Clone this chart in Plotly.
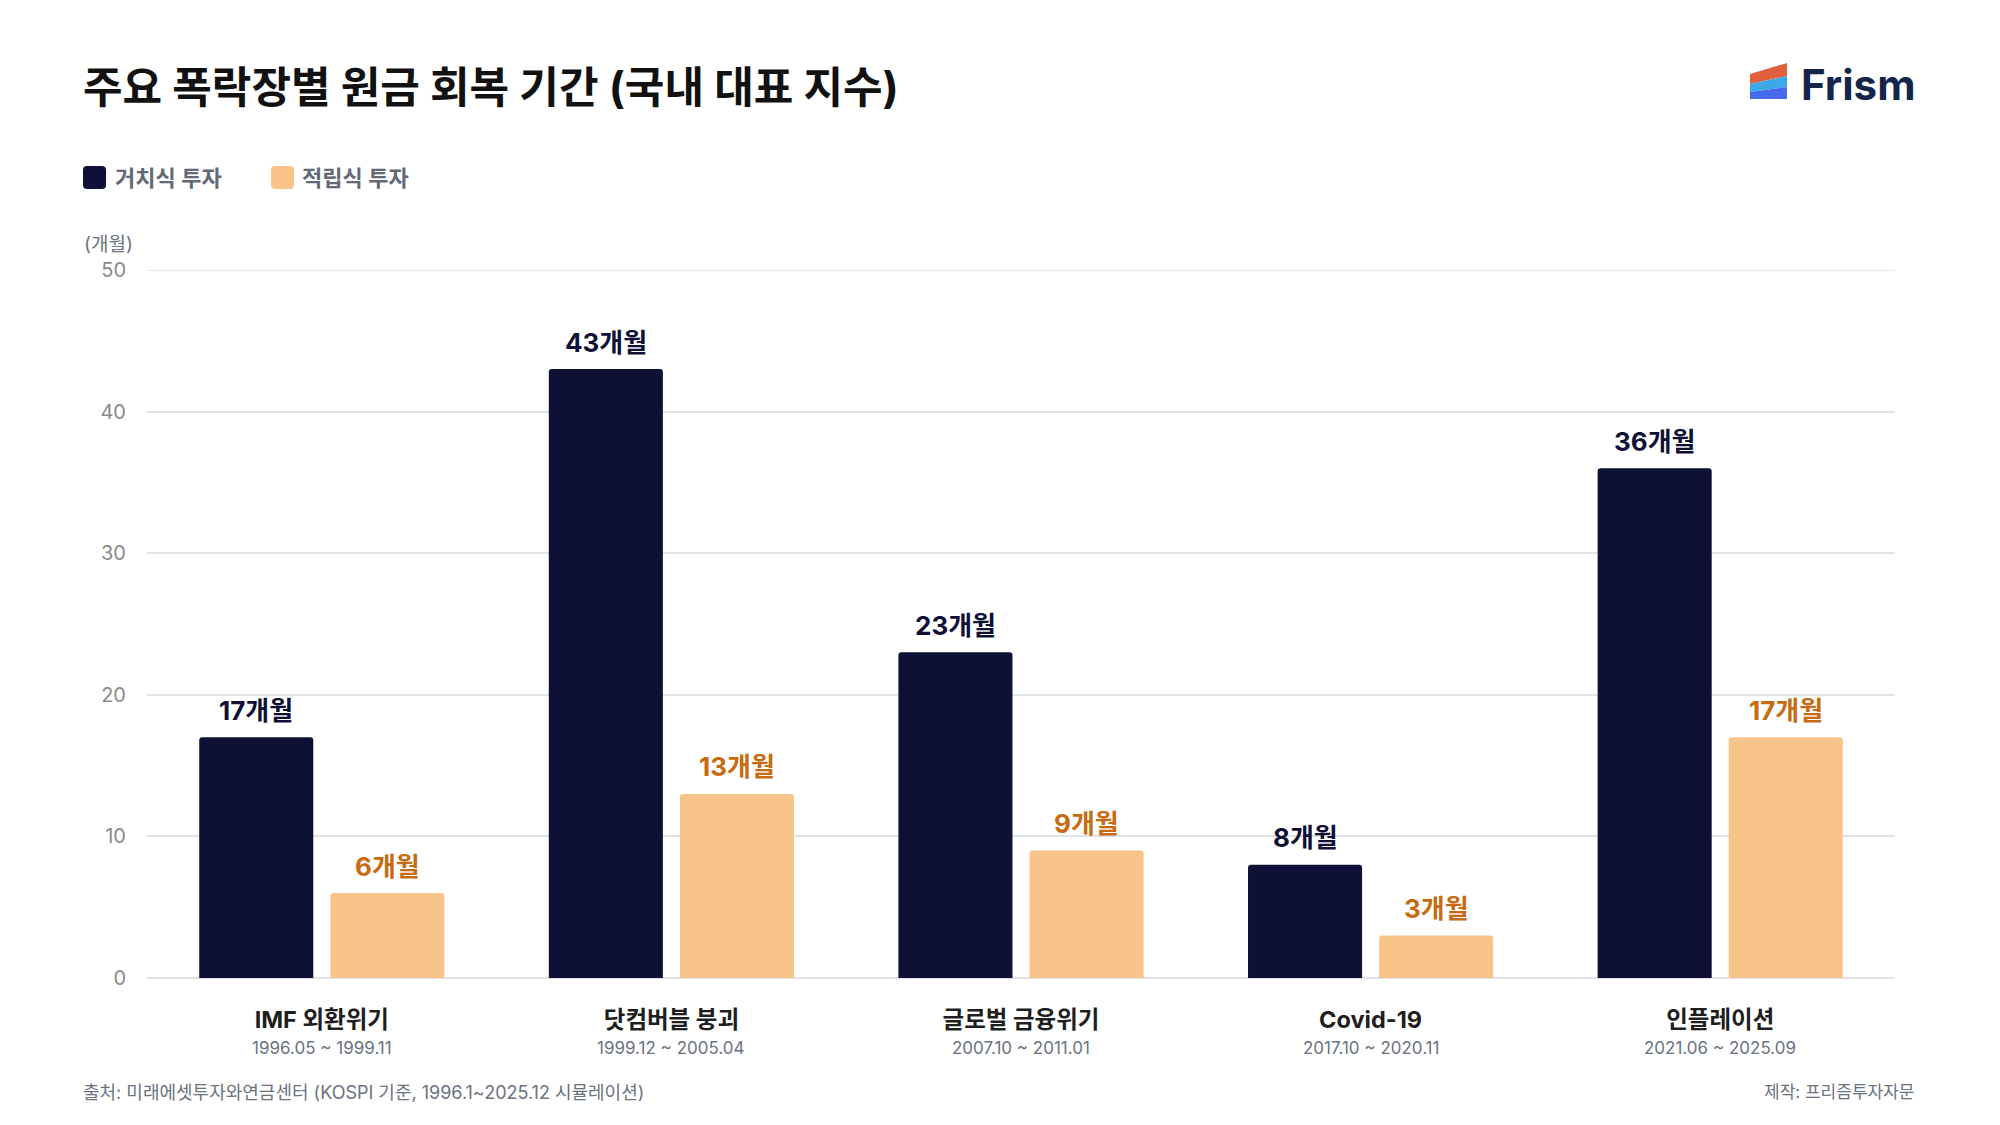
import plotly.graph_objects as go

categories = ["IMF 외환위기", "닷컴버블 붕괴", "글로벌 금융위기", "Covid-19", "인플레이션"]
periods = ["1996.05 ~ 1999.11", "1999.12 ~ 2005.04", "2007.10 ~ 2011.01", "2017.10 ~ 2020.11", "2021.06 ~ 2025.09"]
lump_sum = [17, 43, 23, 8, 36]
installment = [6, 13, 9, 3, 17]
series_names = ["거치식 투자", "적립식 투자"]
y_ticks = [0, 10, 20, 30, 40, 50]

DARK = "#0E1036"
ORANGE = "#F9C48A"
ORANGE_TXT = "#C66B12"
GRID = "#E1E1E8"
FONT = "Inter, 'Noto Sans CJK KR', sans-serif"

# plot area in pixels
L, R, T, B = 147, 1895, 270, 978
W, H = R - L, B - T


def px(x):
    return (x - L) / W


def py(y):
    return (B - y) / H


def rrect(x0, y0, x1, y1, r):
    pts = [
        f"M {px(x0 + r)},{py(y0)}",
        f"L {px(x1 - r)},{py(y0)}",
        f"Q {px(x1)},{py(y0)} {px(x1)},{py(y0 + r)}",
        f"L {px(x1)},{py(y1 - r)}",
        f"Q {px(x1)},{py(y1)} {px(x1 - r)},{py(y1)}",
        f"L {px(x0 + r)},{py(y1)}",
        f"Q {px(x0)},{py(y1)} {px(x0)},{py(y1 - r)}",
        f"L {px(x0)},{py(y0 + r)}",
        f"Q {px(x0)},{py(y0)} {px(x0 + r)},{py(y0)}",
        "Z",
    ]
    return " ".join(pts)


def poly(points):
    return "M " + " L ".join(f"{px(x)},{py(y)}" for x, y in points) + " Z"


fig = go.Figure()
fig.add_trace(go.Bar(x=categories, y=lump_sum, name=series_names[0],
                     marker=dict(color=DARK, line=dict(width=0)), showlegend=False))
fig.add_trace(go.Bar(x=categories, y=installment, name=series_names[1],
                     marker=dict(color=ORANGE, line=dict(width=0)), showlegend=False))

bargap = 0.25
bargroupgap = 0.13
cat_w = W / len(categories)
slot = cat_w * (1 - bargap) / 2

annotations = []
for c, v in zip(categories, lump_sum):
    annotations.append(dict(x=c, y=v, xref="x", yref="y", text=f"<b>{v}개월</b>", showarrow=False,
                            xshift=-slot / 2, yshift=27, yanchor="middle",
                            font=dict(family=FONT, size=26, color=DARK)))
for c, v in zip(categories, installment):
    annotations.append(dict(x=c, y=v, xref="x", yref="y", text=f"<b>{v}개월</b>", showarrow=False,
                            xshift=slot / 2, yshift=27, yanchor="middle",
                            font=dict(family=FONT, size=26, color=ORANGE_TXT)))

annotations.append(dict(x=px(81), y=py(87), xref="paper", yref="paper", xanchor="left", yanchor="middle",
                        text="<b>주요 폭락장별 원금 회복 기간 (국내 대표 지수)</b>", showarrow=False,
                        font=dict(family=FONT, size=43, color="#111111")))
annotations.append(dict(x=px(1799), y=py(84), xref="paper", yref="paper", xanchor="left", yanchor="middle",
                        text="<b>Frism</b>", showarrow=False,
                        font=dict(family="Inter, Roboto, sans-serif", size=42, color="#14254A")))
annotations.append(dict(x=px(113), y=py(178), xref="paper", yref="paper", xanchor="left", yanchor="middle",
                        text=series_names[0], showarrow=False,
                        font=dict(family=FONT, size=22, color="#626876", weight=600)))
annotations.append(dict(x=px(300), y=py(178), xref="paper", yref="paper", xanchor="left", yanchor="middle",
                        text=series_names[1], showarrow=False,
                        font=dict(family=FONT, size=22, color="#626876", weight=600)))
annotations.append(dict(x=px(82), y=py(258), xref="paper", yref="paper", xanchor="left", yanchor="bottom",
                        text="(개월)", showarrow=False,
                        font=dict(family=FONT, size=19, color="#6B7280")))
for c, p in zip(categories, periods):
    annotations.append(dict(x=c, y=py(1048), xref="x", yref="paper", yanchor="middle",
                            text=p, showarrow=False,
                            font=dict(family=FONT, size=17, color="#6B7280")))
annotations.append(dict(x=px(81), y=py(1092), xref="paper", yref="paper", xanchor="left", yanchor="middle",
                        text="출처: 미래에셋투자와연금센터 (KOSPI 기준, 1996.1~2025.12 시뮬레이션)", showarrow=False,
                        font=dict(family=FONT, size=18, color="#6B7280")))
annotations.append(dict(x=px(1916), y=py(1092), xref="paper", yref="paper", xanchor="right", yanchor="middle",
                        text="제작: 프리즘투자자문", showarrow=False,
                        font=dict(family=FONT, size=17, color="#6B7280")))

shapes = [
    dict(type="line", xref="paper", yref="y", x0=0, x1=1, y0=y_ticks[-1], y1=y_ticks[-1],
         line=dict(color=GRID, width=1.5), layer="below"),
    dict(type="path", xref="paper", yref="paper", path=rrect(83, 166, 106, 189, 4),
         fillcolor=DARK, line=dict(width=0)),
    dict(type="path", xref="paper", yref="paper", path=rrect(271, 166, 294, 189, 4),
         fillcolor=ORANGE, line=dict(width=0)),
    dict(type="path", xref="paper", yref="paper", path=poly([(1750, 74), (1787, 63), (1787, 76), (1750, 84)]),
         fillcolor="#E2603C", line=dict(width=0)),
    dict(type="path", xref="paper", yref="paper", path=poly([(1750, 84), (1787, 76), (1787, 87), (1750, 92)]),
         fillcolor="#3AA9E6", line=dict(width=0)),
    dict(type="path", xref="paper", yref="paper", path=poly([(1750, 92), (1787, 87), (1787, 99), (1750, 99)]),
         fillcolor="#4769EE", line=dict(width=0)),
]

fig.update_layout(
    width=2000, height=1125,
    margin=dict(l=L, r=2000 - R, t=T, b=1125 - B, pad=0),
    paper_bgcolor="white", plot_bgcolor="white",
    barmode="group", bargap=bargap, bargroupgap=bargroupgap,
    barcornerradius=3,
    font=dict(family=FONT),
    annotations=annotations,
    shapes=shapes,
    xaxis=dict(
        tickmode="array", tickvals=categories,
        ticktext=[f"<b>{c}</b>" for c in categories],
        tickfont=dict(family=FONT, size=23.5, color="#1E1E1E"),
        ticks="", showline=False, showgrid=False, zeroline=False,
        ticklabelstandoff=25,
    ),
    yaxis=dict(
        range=[0, 50], tickvals=y_ticks, ticks="",
        tickfont=dict(family=FONT, size=20, color="#8A8A8A"),
        showgrid=True, gridcolor=GRID, gridwidth=1.5,
        zeroline=True, zerolinecolor=GRID, zerolinewidth=1.5,
        showline=False, ticklabelstandoff=20,
    ),
)

fig.write_html("out.html")
